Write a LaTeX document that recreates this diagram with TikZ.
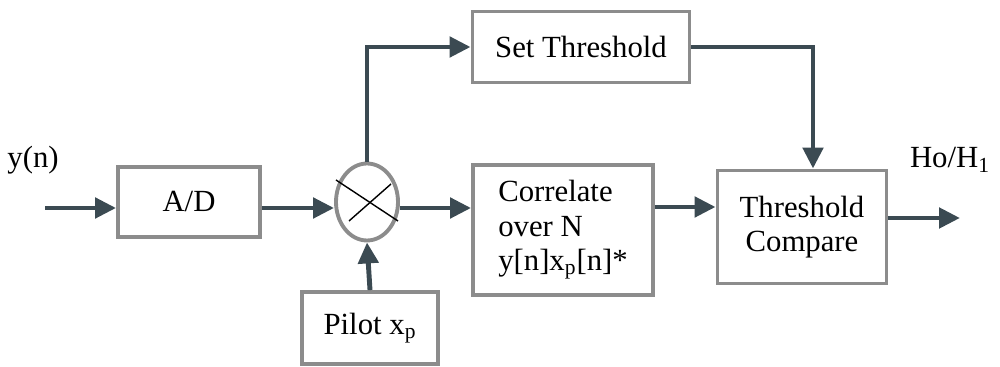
\documentclass[tikz,border=0pt]{standalone}
\usepackage{fontspec}
\setmainfont{Liberation Serif}
\usepackage{tikz}
\usetikzlibrary{shapes.geometric, arrows.meta, positioning, calc}
\definecolor{garis}{HTML}{3B4A52}
\definecolor{tepi}{HTML}{8C8C8C}

\begin{document}
\begin{tikzpicture}[
			blok/.style={draw=tepi, rectangle, line width=2.2pt, fill=white, align=center, font=\fontsize{17.5}{19.5}\selectfont},
			kali/.style={draw=tepi, ellipse, line width=2.2pt, fill=white, minimum width=1.24cm, minimum height=1.54cm, inner sep=0pt},
			label/.style={font=\fontsize{17.5}{19.5}\selectfont},
			panah/.style={-{Triangle[length=0.42cm, width=0.4cm]}, line width=2.8pt, color=garis}
		]
		\useasboundingbox (0,0) rectangle (20,7.34);

		% Node utama
		\node[blok, minimum width=2.84cm, minimum height=1.4cm] (ad) at (3.78,3.30) {A/D};
		\node[kali] (mult) at (7.34,3.30) {};
		\node[blok, minimum width=2.72cm, minimum height=1.44cm] (pilot) at (7.40,0.78) {Pilot x\textsubscript{p}};
		\node[blok, minimum width=4.34cm, minimum height=1.42cm] (set) at (11.62,6.40) {Set Threshold};
		\node[blok, minimum width=3.6cm, minimum height=2.6cm, align=left] (corr) at (11.26,2.74) {Correlate\\over N\\y[n]x\textsubscript{p}[n]*};
		\node[blok, minimum width=3.38cm, minimum height=2.26cm] (cmp) at (16.04,2.80) {Threshold\\Compare};

		% Label masuk dan keluar
		\node[label] (yn) at (0.66,4.14) {y(n)};
		\node[label] (hasil) at (19.0,4.14) {Ho/H\textsubscript{1}};
		\coordinate (masuk) at (0.9,3.18);
		\coordinate (keluar) at (19.2,2.98);
		\coordinate (belok) at (16.26,6.40);

		% Tanda silang pada pengali
		\draw[line width=0.8pt] ([shift={(-0.62,0.44)}]mult.center) -- ([shift={(0.62,-0.38)}]mult.center);
		\draw[line width=0.8pt] ([shift={(-0.36,-0.38)}]mult.center) -- ([shift={(0.48,0.36)}]mult.center);

		% Garis penghubung
		\draw[panah] (masuk) -- (masuk -| ad.west);
		\draw[panah] (masuk -| ad.east) -- (masuk -| mult.west);
		\draw[panah] (pilot.north) -- (mult.south);
		\draw[panah] (mult.north) |- (set.west);
		\draw[panah] (masuk -| mult.east) -- (masuk -| corr.west);
		\draw[panah] (corr.east |- 0,3.20) -- (cmp.west |- 0,3.20);
		\draw[panah] (set.east) -- (belok) -- (belok |- cmp.north);
		\draw[panah] (keluar -| cmp.east) -- (keluar);
	\end{tikzpicture}
\end{document}
